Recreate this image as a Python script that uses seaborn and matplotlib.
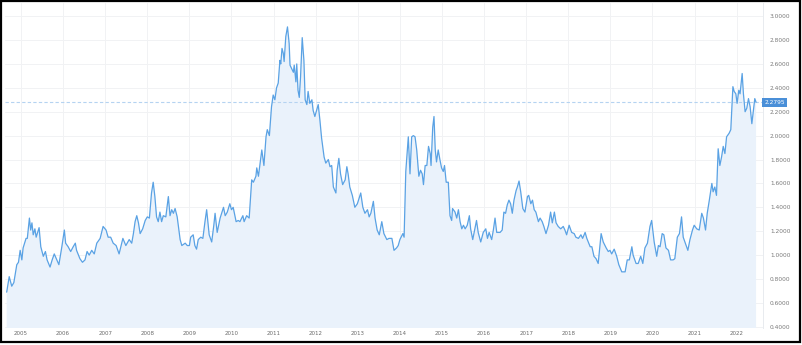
import numpy as np
import pandas as pd
import matplotlib
matplotlib.use("Agg")
import matplotlib.pyplot as plt
import seaborn as sns
from matplotlib.patches import Rectangle
from matplotlib.transforms import blended_transform_factory

# ---- data (decimal year, value) ----
dates = [
    2004.66, 2004.72, 2004.78, 2004.83, 2004.90, 2004.94, 2004.98, 2005.02, 2005.05, 2005.12,
    2005.15, 2005.20, 2005.23, 2005.26, 2005.29, 2005.33, 2005.36, 2005.43, 2005.47, 2005.53,
    2005.58, 2005.62, 2005.69, 2005.74, 2005.79, 2005.85, 2005.90, 2005.97, 2006.03, 2006.06,
    2006.12, 2006.18, 2006.24, 2006.29, 2006.32, 2006.40, 2006.46, 2006.52, 2006.57, 2006.62,
    2006.68, 2006.74, 2006.80, 2006.88, 2006.95, 2007.02, 2007.07, 2007.13, 2007.19, 2007.26,
    2007.33, 2007.42, 2007.49, 2007.57, 2007.63, 2007.67, 2007.71, 2007.75, 2007.79, 2007.83,
    2007.89, 2007.95, 2008.00, 2008.05, 2008.10, 2008.14, 2008.18, 2008.22, 2008.26, 2008.30,
    2008.34, 2008.38, 2008.44, 2008.50, 2008.54, 2008.58, 2008.62, 2008.66, 2008.71, 2008.78,
    2008.82, 2008.90, 2008.95, 2009.00, 2009.03, 2009.09, 2009.13, 2009.17, 2009.21, 2009.27,
    2009.32, 2009.37, 2009.41, 2009.47, 2009.53, 2009.58, 2009.61, 2009.66, 2009.73, 2009.81,
    2009.85, 2009.90, 2009.96, 2010.00, 2010.04, 2010.11, 2010.16, 2010.20, 2010.27, 2010.30,
    2010.36, 2010.42, 2010.48, 2010.52, 2010.58, 2010.60, 2010.64, 2010.69, 2010.72, 2010.77,
    2010.82, 2010.85, 2010.90, 2010.95, 2010.99, 2011.03, 2011.07, 2011.11, 2011.15, 2011.17,
    2011.20, 2011.23, 2011.25, 2011.29, 2011.33, 2011.37, 2011.39, 2011.43, 2011.47, 2011.49,
    2011.53, 2011.55, 2011.58, 2011.61, 2011.64, 2011.68, 2011.72, 2011.75, 2011.79, 2011.82,
    2011.86, 2011.91, 2011.94, 2011.98, 2012.02, 2012.06, 2012.10, 2012.14, 2012.20, 2012.24,
    2012.30, 2012.34, 2012.38, 2012.42, 2012.48, 2012.51, 2012.55, 2012.59, 2012.64, 2012.70,
    2012.74, 2012.77, 2012.81, 2012.87, 2012.93, 2012.99, 2013.07, 2013.12, 2013.17, 2013.23,
    2013.27, 2013.31, 2013.37, 2013.41, 2013.46, 2013.51, 2013.57, 2013.62, 2013.69, 2013.74,
    2013.81, 2013.86, 2013.92, 2013.96, 2014.00, 2014.07, 2014.10, 2014.14, 2014.20, 2014.24,
    2014.28, 2014.32, 2014.36, 2014.40, 2014.45, 2014.49, 2014.53, 2014.56, 2014.60, 2014.64,
    2014.68, 2014.72, 2014.74, 2014.78, 2014.81, 2014.84, 2014.87, 2014.91, 2014.95, 2014.99,
    2015.03, 2015.06, 2015.10, 2015.15, 2015.19, 2015.23, 2015.25, 2015.31, 2015.35, 2015.39,
    2015.43, 2015.47, 2015.51, 2015.55, 2015.60, 2015.65, 2015.68, 2015.73, 2015.78, 2015.82,
    2015.86, 2015.92, 2015.98, 2016.04, 2016.08, 2016.12, 2016.18, 2016.22, 2016.26, 2016.30,
    2016.38, 2016.43, 2016.47, 2016.51, 2016.55, 2016.59, 2016.63, 2016.67, 2016.71, 2016.76,
    2016.79, 2016.83, 2016.87, 2016.92, 2016.97, 2017.03, 2017.06, 2017.11, 2017.15, 2017.19,
    2017.23, 2017.29, 2017.33, 2017.38, 2017.42, 2017.47, 2017.53, 2017.58, 2017.62, 2017.67,
    2017.71, 2017.76, 2017.82, 2017.88, 2017.92, 2017.96, 2018.02, 2018.08, 2018.14, 2018.18,
    2018.24, 2018.30, 2018.34, 2018.40, 2018.44, 2018.52, 2018.56, 2018.61, 2018.66, 2018.71,
    2018.75, 2018.78, 2018.83, 2018.90, 2018.95, 2018.99, 2019.03, 2019.09, 2019.15, 2019.20,
    2019.27, 2019.35, 2019.40, 2019.45, 2019.51, 2019.54, 2019.61, 2019.66, 2019.72, 2019.77,
    2019.82, 2019.88, 2019.94, 2019.98, 2020.04, 2020.10, 2020.14, 2020.18, 2020.23, 2020.27,
    2020.32, 2020.38, 2020.43, 2020.49, 2020.53, 2020.59, 2020.64, 2020.69, 2020.73, 2020.80,
    2020.84, 2020.89, 2020.95, 2020.99, 2021.05, 2021.11, 2021.17, 2021.21, 2021.26, 2021.30,
    2021.35, 2021.41, 2021.44, 2021.48, 2021.52, 2021.56, 2021.60, 2021.64, 2021.68, 2021.72,
    2021.76, 2021.82, 2021.86, 2021.91, 2021.94, 2021.98, 2022.01, 2022.05, 2022.08, 2022.13,
    2022.16, 2022.20, 2022.24, 2022.28, 2022.32, 2022.36, 2022.39, 2022.43, 2022.46,
]
values = [
    0.69, 0.82, 0.74, 0.77, 0.92, 0.94, 1.04, 0.96, 1.06, 1.14,
    1.14, 1.31, 1.21, 1.27, 1.17, 1.22, 1.15, 1.23, 1.07, 0.99,
    1.03, 0.96, 0.90, 0.96, 1.01, 0.96, 0.92, 1.07, 1.21, 1.10,
    1.07, 1.03, 1.07, 1.10, 1.04, 0.97, 0.94, 0.96, 1.03, 1.00,
    1.04, 1.01, 1.10, 1.14, 1.24, 1.21, 1.15, 1.15, 1.10, 1.08,
    1.01, 1.14, 1.08, 1.13, 1.10, 1.18, 1.28, 1.33, 1.27, 1.18,
    1.22, 1.29, 1.32, 1.31, 1.52, 1.61, 1.49, 1.32, 1.28, 1.36,
    1.28, 1.33, 1.32, 1.49, 1.33, 1.38, 1.35, 1.39, 1.32, 1.13,
    1.08, 1.10, 1.08, 1.08, 1.15, 1.17, 1.08, 1.05, 1.13, 1.15,
    1.14, 1.28, 1.38, 1.17, 1.11, 1.25, 1.35, 1.19, 1.31, 1.40,
    1.33, 1.36, 1.43, 1.38, 1.40, 1.28, 1.29, 1.28, 1.33, 1.28,
    1.33, 1.31, 1.63, 1.61, 1.66, 1.73, 1.66, 1.80, 1.88, 1.75,
    1.99, 2.05, 2.00, 2.24, 2.34, 2.30, 2.40, 2.44, 2.63, 2.60,
    2.73, 2.69, 2.62, 2.83, 2.91, 2.77, 2.59, 2.56, 2.53, 2.59,
    2.45, 2.60, 2.38, 2.32, 2.49, 2.82, 2.63, 2.30, 2.26, 2.37,
    2.27, 2.30, 2.21, 2.16, 2.21, 2.26, 2.13, 1.98, 1.82, 1.77,
    1.80, 1.74, 1.75, 1.57, 1.52, 1.71, 1.81, 1.68, 1.59, 1.63,
    1.74, 1.68, 1.57, 1.50, 1.40, 1.43, 1.52, 1.40, 1.35, 1.38,
    1.32, 1.35, 1.45, 1.31, 1.21, 1.17, 1.28, 1.18, 1.13, 1.14,
    1.14, 1.04, 1.06, 1.08, 1.13, 1.18, 1.15, 1.70, 1.99, 1.68,
    1.99, 2.00, 1.99, 1.88, 1.66, 1.71, 1.68, 1.59, 1.75, 1.75,
    1.91, 1.85, 1.75, 2.07, 2.16, 1.88, 1.78, 1.88, 1.80, 1.73,
    1.70, 1.75, 1.61, 1.61, 1.33, 1.29, 1.39, 1.36, 1.31, 1.38,
    1.28, 1.22, 1.25, 1.22, 1.25, 1.33, 1.22, 1.13, 1.22, 1.29,
    1.19, 1.11, 1.19, 1.22, 1.14, 1.19, 1.13, 1.21, 1.31, 1.19,
    1.19, 1.21, 1.36, 1.35, 1.42, 1.46, 1.43, 1.35, 1.46, 1.54,
    1.57, 1.62, 1.53, 1.39, 1.36, 1.49, 1.50, 1.43, 1.46, 1.38,
    1.36, 1.28, 1.31, 1.28, 1.24, 1.18, 1.25, 1.36, 1.27, 1.36,
    1.27, 1.24, 1.22, 1.24, 1.21, 1.17, 1.25, 1.19, 1.18, 1.15,
    1.14, 1.17, 1.14, 1.19, 1.14, 1.07, 1.07, 0.99, 0.97, 0.93,
    1.07, 1.18, 1.11, 1.06, 1.03, 1.04, 1.01, 1.05, 0.99, 0.92,
    0.86, 0.86, 0.96, 0.96, 1.07, 1.00, 0.93, 0.93, 0.99, 0.93,
    1.06, 1.10, 1.24, 1.29, 1.11, 0.99, 1.08, 1.07, 1.18, 1.17,
    1.06, 1.04, 0.96, 0.96, 0.97, 1.15, 1.18, 1.32, 1.15, 1.08,
    1.04, 1.13, 1.21, 1.25, 1.22, 1.21, 1.35, 1.31, 1.21, 1.35,
    1.46, 1.60, 1.53, 1.57, 1.50, 1.89, 1.75, 1.82, 1.91, 1.85,
    1.99, 2.02, 2.05, 2.41, 2.37, 2.35, 2.27, 2.38, 2.35, 2.52,
    2.35, 2.20, 2.23, 2.31, 2.24, 2.10, 2.19, 2.31, 2.2795,
]
year_ticks = list(range(2005, 2023))
year_labels = [str(y) for y in year_ticks]
value_ticks = [0.4, 0.6, 0.8, 1.0, 1.2, 1.4, 1.6, 1.8, 2.0, 2.2, 2.4, 2.6, 2.8, 3.0]
last_value = 2.2795
last_label = "2.2795"

df = pd.DataFrame({"date": dates, "value": values})

W, H = 802, 345
sns.set_theme(style="white")
plt.rcParams["font.family"] = ["DejaVu Sans"]

fig = plt.figure(figsize=(W / 100, H / 100), dpi=100)
fig.patch.set_facecolor("white")

# axes placement (pixels)
x0, x1, ytop, ybot = 5, 763, 3, 328
ax = fig.add_axes([x0 / W, (H - ybot) / H, (x1 - x0) / W, (ybot - ytop) / H])
ax.set_facecolor("white")

line_color = "#5aa2e4"
fill_color = "#eaf2fb"

ax.fill_between(df["date"], df["value"], 0, color=fill_color, lw=0, zorder=1)
sns.lineplot(data=df, x="date", y="value", ax=ax, color=line_color, lw=0.9, zorder=3)

ax.set_xlim(2004.62, 2022.625)
ax.set_ylim(0.39, 3.11)

ax.set_xticks(year_ticks)
ax.set_xticklabels(year_labels)
ax.set_yticks(value_ticks)
ax.set_yticklabels([f"{v:.4f}" for v in value_ticks])

ax.grid(True, color="#f1f2f4", lw=0.7, zorder=0)
ax.set_axisbelow(True)

ax.tick_params(axis="y", left=False, right=False, length=0, labelleft=False, labelright=True,
               labelsize=4.2, labelcolor="#7a7a7a", pad=5)
ax.tick_params(axis="x", bottom=False, length=0, labelsize=4.0, labelcolor="#6a6a6a", pad=2.5)
ax.set_xlabel("")
ax.set_ylabel("")

for s in ["top", "left", "bottom"]:
    ax.spines[s].set_visible(False)
ax.spines["right"].set_color("#e8ebef")
ax.spines["right"].set_linewidth(0.7)

# last price dashed line and label
ax.axhline(last_value, color="#b5d3f1", lw=0.8, ls=(0, (3, 2)), zorder=2)
trans = blended_transform_factory(ax.transAxes, ax.transData)
ax.text(1.0015, last_value, last_label, transform=trans, ha="left", va="center",
        fontsize=4.2, color="white",
        bbox=dict(boxstyle="square,pad=0.35", fc="#4a8fd8", ec="none"), zorder=5)

# outer frame
fig.patches.append(Rectangle((1 / W, (H - 342) / H), 799 / W, 341 / H,
                             transform=fig.transFigure, fill=False,
                             ec="black", lw=1.6, zorder=10))

fig.savefig("out.png", dpi=100, facecolor="white")
